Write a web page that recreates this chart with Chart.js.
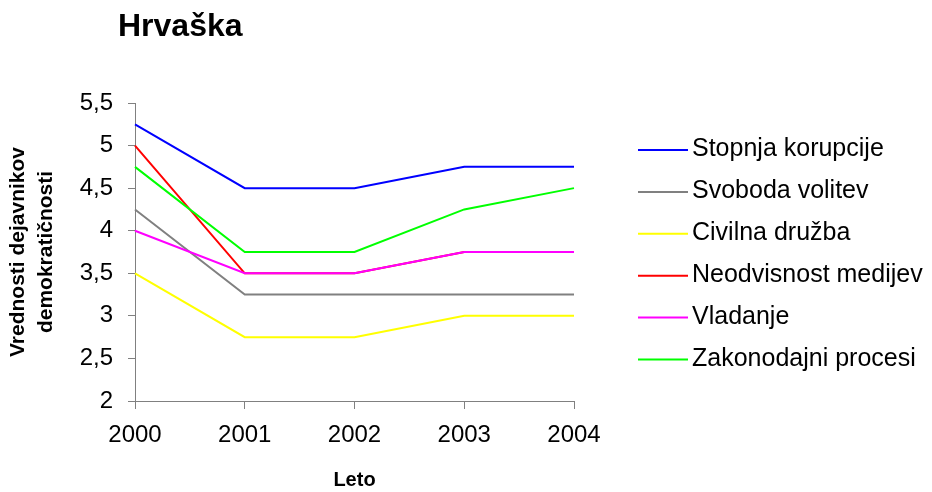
<!DOCTYPE html>
<html lang="sl">
  <head>
    <meta charset="UTF-8" />
    <title>Hrvaška</title>
    <script src="https://cdn.jsdelivr.net/npm/chart.js"></script>
    <style>
      html, body {
        margin: 0;
        padding: 0;
        background: #ffffff;
      }
      #wrap {
        width: 932px;
        height: 492px;
      }
    </style>
  </head>
  <body>
    <div id="wrap"><canvas id="chartCanvas" width="932" height="492"></canvas></div>

    <script>
      const leta = ["2000", "2001", "2002", "2003", "2004"];
      const imenaSerij = [
        "Stopnja korupcije",
        "Svoboda volitev",
        "Civilna družba",
        "Neodvisnost medijev",
        "Vladanje",
        "Zakonodajni procesi",
      ];
      const stopnjaKorupcije = [5.25, 4.5, 4.5, 4.75, 4.75];
      const svobodaVolitev = [4.25, 3.25, 3.25, 3.25, 3.25];
      const civilnaDruzba = [3.5, 2.75, 2.75, 3, 3];
      const neodvisnostMedijev = [5, 3.5, 3.5, 3.75, 3.75];
      const vladanje = [4, 3.5, 3.5, 3.75, 3.75];
      const zakonodajniProcesi = [4.75, 3.75, 3.75, 4.25, 4.5];
      const barve = ["#0000ff", "#808080", "#ffff00", "#ff0000", "#ff00ff", "#00ff00"];

      const vrednosti = [
        stopnjaKorupcije,
        svobodaVolitev,
        civilnaDruzba,
        neodvisnostMedijev,
        vladanje,
        zakonodajniProcesi,
      ];

      const font = "Arial, 'Liberation Sans', sans-serif";

      // naslov in legenda narisana kar na platno
      const dodatki = {
        id: "dodatki",
        afterDraw(chart) {
          const c = chart.ctx;
          c.save();
          c.fillStyle = "#000";
          c.textAlign = "left";
          c.textBaseline = "alphabetic";
          c.font = "bold 32px " + font;
          c.fillText("Hrvaška", 118, 36);

          c.font = "25px " + font;
          chart.data.datasets.forEach((ds, i) => {
            const y = 150 + i * 41.9;
            c.strokeStyle = ds.borderColor;
            c.lineWidth = 2;
            c.beginPath();
            c.moveTo(638, y);
            c.lineTo(688, y);
            c.stroke();
            c.fillText(ds.label, 692, y + 6);
          });
          c.restore();
        },
      };

      const ctx = document.getElementById("chartCanvas").getContext("2d");
      const chart = new Chart(ctx, {
        type: "line",
        data: {
          labels: leta,
          datasets: imenaSerij.map((ime, i) => ({
            label: ime,
            data: vrednosti[i],
            borderColor: barve[i],
            backgroundColor: barve[i],
            borderWidth: 2,
            pointRadius: 0,
            fill: false,
            tension: 0,
            order: imenaSerij.length - i,
          })),
        },
        options: {
          responsive: false,
          animation: false,
          layout: {
            padding: { top: 103, right: 358, bottom: 0, left: 0 },
          },
          plugins: {
            legend: { display: false },
            tooltip: { enabled: false },
          },
          scales: {
            x: {
              offset: false,
              grid: {
                drawOnChartArea: false,
                color: "#808080",
                tickLength: 8,
              },
              border: { color: "#808080", width: 1 },
              ticks: {
                color: "#000",
                font: { family: font, size: 24 },
                padding: 12,
                maxRotation: 0,
              },
              title: {
                display: true,
                text: "Leto",
                color: "#000",
                font: { family: font, size: 20, weight: "bold" },
                padding: { top: 16, bottom: 0 },
              },
              afterFit(s) {
                s.height = 91;
              },
            },
            y: {
              min: 2,
              max: 5.5,
              grid: {
                drawOnChartArea: false,
                color: "#808080",
                tickLength: 7,
              },
              border: { color: "#808080", width: 1 },
              ticks: {
                stepSize: 0.5,
                color: "#000",
                font: { family: font, size: 24 },
                padding: 15,
                callback: (v) => String(v).replace(".", ","),
              },
              title: {
                display: true,
                text: ["Vrednosti dejavnikov", "demokratičnosti"],
                color: "#000",
                font: { family: font, size: 21, weight: "bold", lineHeight: 1.3 },
                padding: { top: 5, bottom: 0 },
              },
              afterFit(s) {
                s.width = 135;
              },
            },
          },
        },
        plugins: [dodatki],
      });
    </script>
  </body>
</html>
